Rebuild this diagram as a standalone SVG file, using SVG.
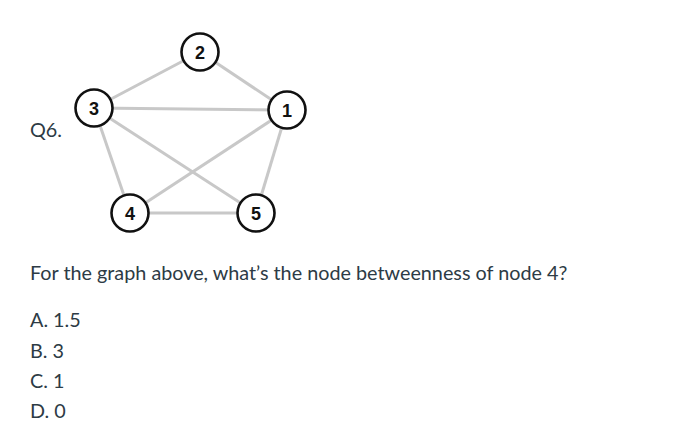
<svg xmlns="http://www.w3.org/2000/svg" width="676" height="442" viewBox="0 0 676 442">
<style>
.e{stroke:#c8c8c8;stroke-width:3;fill:none}
.n circle{fill:#fff;stroke:#111;stroke-width:2.6}
.n text{font-family:"Liberation Sans",Arial,sans-serif;font-weight:bold;font-size:18px;fill:#111;text-anchor:middle}
.t{font-family:Lato,"Liberation Sans",sans-serif;font-size:19.8px;fill:#2d3b45}
</style>
<rect width="676" height="442" fill="#fff"/>
<g id="connectors">
<line class="e" x1="200" y1="52" x2="94" y2="108"/>
<line class="e" x1="200" y1="52" x2="287" y2="110"/>
<line class="e" x1="94" y1="108" x2="287" y2="110"/>
<line class="e" x1="94" y1="108" x2="130" y2="213"/>
<line class="e" x1="94" y1="108" x2="256" y2="213"/>
<line class="e" x1="287" y1="110" x2="130" y2="213"/>
<line class="e" x1="287" y1="110" x2="256" y2="213"/>
<line class="e" x1="130" y1="213" x2="256" y2="213"/>
</g>
<g id="node2" class="n"><circle cx="200" cy="52" r="18.5"/><text x="200" y="58.5">2</text></g>
<g id="node3" class="n"><circle cx="94" cy="108" r="18.5"/><text x="94" y="114.5">3</text></g>
<g id="node1" class="n"><circle cx="287" cy="110" r="18.5"/><text x="287" y="116.5">1</text></g>
<g id="node4" class="n"><circle cx="130" cy="213" r="18.5"/><text x="130" y="219.5">4</text></g>
<g id="node5" class="n"><circle cx="256" cy="213" r="18.5"/><text x="256" y="219.5">5</text></g>
<text class="t" x="30" y="137">Q6.</text>
<text class="t" x="30" y="280">For the graph above, what’s the node betweenness of node 4?</text>
<text class="t" x="30" y="327">A. 1.5</text>
<text class="t" x="30" y="358">B. 3</text>
<text class="t" x="30" y="388">C. 1</text>
<text class="t" x="30" y="418">D. 0</text>
</svg>
